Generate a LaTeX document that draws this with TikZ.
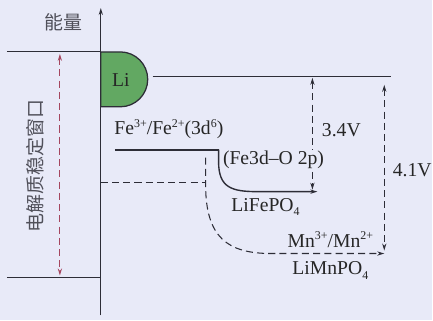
\documentclass[tikz,border=0pt]{standalone}
\usepackage{fontspec}
\setmainfont{Liberation Serif}
\newfontfamily\cjk{Noto Sans CJK SC}
\usetikzlibrary{arrows.meta,positioning}
\definecolor{fondBleu}{RGB}{232,234,248}
\definecolor{vertLi}{RGB}{98,168,98}
\definecolor{rougeFen}{RGB}{165,70,95}
\definecolor{violetMn}{RGB}{115,70,175}
\definecolor{grisTrait}{RGB}{45,45,55}
\definecolor{grisTexte}{RGB}{80,80,90}
\newcommand{\exposant}[1]{\raisebox{0.85ex}{\fontsize{8.5}{9}\selectfont #1}}
\newcommand{\indice}[1]{\raisebox{-0.45ex}{\fontsize{8.5}{9}\selectfont #1}}

\begin{document}
\begin{tikzpicture}[x=0.025cm,y=-0.025cm,
  lbl/.style={inner sep=1pt,text=black!85,font=\fontsize{14}{16}\selectfont},
  cjklbl/.style={inner sep=1pt,text=grisTexte,font=\cjk\fontsize{13.5}{16}\selectfont},
  niveau/.style={draw=grisTrait,line width=0.85pt},
  pointille/.style={draw=grisTrait,line width=0.75pt,dash pattern=on 5pt off 3pt},
  pointe/.style={-{Stealth[length=5pt,width=3pt]}},
  doublepointe/.style={{Stealth[length=5pt,width=3pt]}-{Stealth[length=5pt,width=3pt]}}]

  \fill[fondBleu] (0,0) rectangle (433,321);

  % axe des energies
  \coordinate (axeBas)  at (101,316);
  \coordinate (axeHaut) at (101,8);
  \draw[niveau,pointe] (axeBas)--(axeHaut);
  \node[cjklbl] (energie) at (64,22) {能量};

  % fenetre de l'electrolyte
  \coordinate (fenHaut) at (7,52);
  \coordinate (fenBas)  at (7,278);
  \draw[niveau] (fenHaut)--(fenHaut-|axeHaut);
  \draw[niveau] (fenBas)--(fenBas-|axeHaut);
  \coordinate (fenFlH) at (60,54);
  \coordinate (fenFlB) at (60,276);
  \draw[pointille,draw=rougeFen,doublepointe] (fenFlH)--(fenFlB);
  \node[cjklbl,rotate=90] (fenetre) at (35,166) {电解质稳定窗口};

  % lithium
  \draw[grisTrait,line width=0.9pt,fill=vertLi]
    (101,52)--(120.5,52) arc[start angle=-90,end angle=90,radius=27.5]--(101,107)--cycle;
  \node[lbl] (li) at (121,80) {Li};
  \coordinate (liG) at (153,77);
  \coordinate (liD) at (392,77);
  \draw[niveau] (liG)--(liD);

  % tensions
  \coordinate (v34H) at (313,78);
  \coordinate (v34B) at (313,190);
  \draw[pointille,doublepointe] (v34H)--(v34B);
  \node[lbl] (v34) at (342,130) {3.4V};
  \coordinate (v41H) at (385,85);
  \coordinate (v41B) at (385,251);
  \draw[pointille,doublepointe] (v41H)--(v41B);
  \node[lbl] (v41) at (413,170) {4.1V};

  % LiFePO4
  \coordinate (feG) at (115,150);
  \coordinate (feD) at (219,150);
  \coordinate (feFin) at (318,192);
  \draw[grisTrait,line width=1.6pt] (feG)--(feD);
  \draw[niveau,line width=1pt,pointe] (feD)--++(0,12)
    .. controls (219,188) and (232,192) .. (258,192)--(feFin);
  \node[lbl,anchor=south west] (fe) at (113,141)
    {Fe\exposant{3+}/Fe\exposant{2+}(3d\exposant{6})};
  \node[lbl,fill=fondBleu,inner sep=0.5pt] (feo) at (274,160) {(Fe3d--O 2p)};
  \node[lbl] (lifepo) at (266,207) {LiFePO\indice{4}};

  % LiMnPO4
  \coordinate (mnDep) at (206,158);
  \coordinate (mnFin) at (385,254);
  \draw[pointille] (axeHaut|-0,183)--(206,183);
  \draw[pointille,-{Stealth[length=5pt,width=3pt,fill=violetMn]}] (mnDep)--(206,185)
    .. controls (206,238) and (228,254) .. (272,254)--(mnFin);
  \node[lbl] (mn) at (331,240) {Mn\exposant{3+}/Mn\exposant{2+}};
  \node[lbl] (limnpo) at (331,271) {LiMnPO\indice{4}};
\end{tikzpicture}
\end{document}
